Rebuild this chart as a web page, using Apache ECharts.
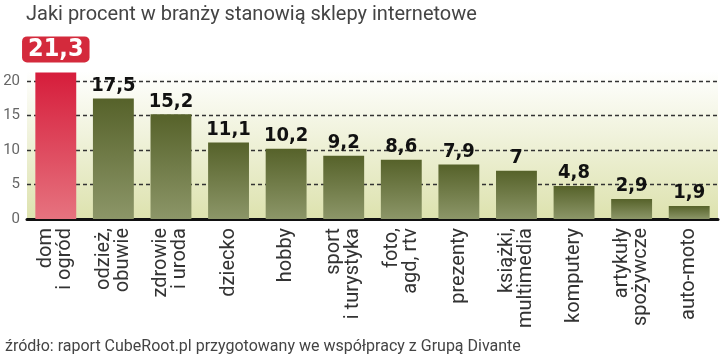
<!DOCTYPE html>
<html>
<head>
<meta charset="utf-8">
<script src="https://cdn.jsdelivr.net/npm/echarts@6/dist/echarts.min.js"></script>
<style>
html,body{margin:0;padding:0;background:#fff;}
#c{width:720px;height:358px;}
</style>
</head>
<body>
<div id="c"></div>
<script>
const titleText = "Jaki procent w branży stanowią sklepy internetowe";
const sourceText = "źródło: raport CubeRoot.pl przygotowany we współpracy z Grupą Divante";
const categories = ["dom\ni ogród", "odzież,\nobuwie", "zdrowie\ni uroda", "dziecko", "hobby", "sport\ni turystyka", "foto,\nagd, rtv", "prezenty", "książki,\nmultimedia", "komputery", "artykuły\nspożywcze", "auto-moto"];
const values = [21.3, 17.5, 15.2, 11.1, 10.2, 9.2, 8.6, 7.9, 7, 4.8, 2.9, 1.9];
const highlightIndex = 0;

const fmt = v => String(v).replace('.', ',');
const narrow = '"DejaVu Sans Condensed", sans-serif';

const olive = {type:'linear',x:0,y:0,x2:0,y2:1,colorStops:[{offset:0,color:'#56622a'},{offset:1,color:'#8c9668'}]};
const red = {type:'linear',x:0,y:0,x2:0,y2:1,colorStops:[{offset:0,color:'#d61d3b'},{offset:1,color:'#e6737f'}]};

const data = values.map((v,i) => {
  if (i === highlightIndex) {
    return {value:v, itemStyle:{color:red}, label:{
      show:true, position:'top', distance:10, color:'#fff', fontSize:25, fontWeight:'bold',
      fontFamily:narrow, backgroundColor:'#d42a3c', borderRadius:5,
      padding:[1,6,0,6], formatter:p=>fmt(p.value)}};
  }
  return {value:v};
});

const chart = echarts.init(document.getElementById('c'), null, {renderer:'canvas'});
chart.setOption({
  animation:false,
  backgroundColor:'#fff',
  title:[
    {text:titleText, left:21, top:0, textStyle:{fontFamily:'Roboto', fontWeight:'normal', fontSize:20, color:'#444'}},
    {text:sourceText, left:0, top:334, textStyle:{fontFamily:'Roboto', fontWeight:'normal', fontSize:16, color:'#444'}}
  ],
  grid:{left:27, right:2, top:71, bottom:139, show:true, borderWidth:0,
    backgroundColor:{type:'linear',x:0,y:0,x2:0,y2:1,colorStops:[{offset:0,color:'#ffffff'},{offset:1,color:'#dde2ae'}]}},
  xAxis:{type:'category', data:categories,
    axisLine:{lineStyle:{color:'#111', width:3}},
    axisTick:{show:false},
    axisLabel:{rotate:90, interval:0, margin:9, fontFamily:'Roboto', fontSize:20, lineHeight:19, color:'#333'}},
  yAxis:{type:'value', min:0, max:21.5, interval:5,
    axisLine:{show:false}, axisTick:{show:false},
    axisLabel:{margin:7, fontFamily:'Roboto', fontSize:15, color:'#666',
      formatter:v => (v % 5 === 0 ? String(v) : '')},
    splitLine:{show:true, showMinLine:false, showMaxLine:false, lineStyle:{color:'#333', type:[4,3], width:1.3}}},
  series:[{
    type:'bar', data:data, barWidth:'71%', itemStyle:{color:olive},
    label:{show:true, position:'top', distance:3, color:'#111', fontSize:20, fontWeight:'bold',
      fontFamily:narrow, formatter:p=>fmt(p.value)}
  }]
});
</script>
</body>
</html>
